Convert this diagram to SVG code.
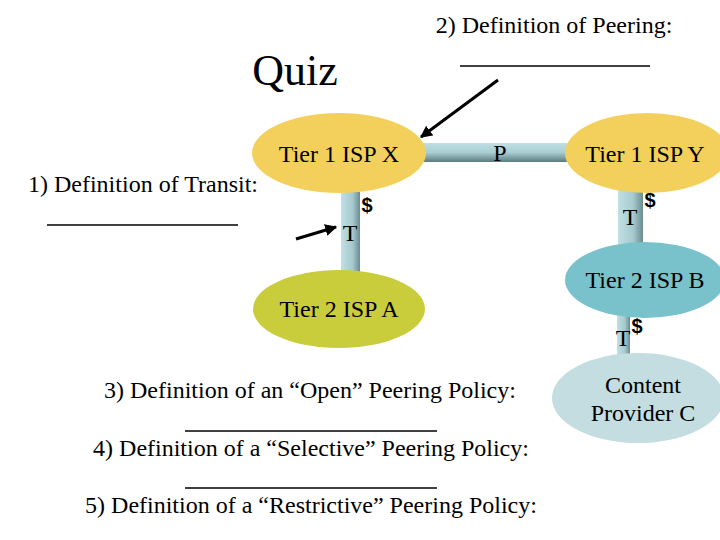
<svg xmlns="http://www.w3.org/2000/svg" width="720" height="540" viewBox="0 0 720 540">
<defs>
<linearGradient id="pipeH" x1="0" y1="0" x2="0" y2="1"><stop offset="0" stop-color="#bfe0e4"/><stop offset="0.5" stop-color="#a9cdd2"/><stop offset="1" stop-color="#5b7a7e"/></linearGradient>
<linearGradient id="pipeV" x1="0" y1="0" x2="1" y2="0"><stop offset="0" stop-color="#bfe0e4"/><stop offset="0.6" stop-color="#a6cace"/><stop offset="1" stop-color="#6a8c90"/></linearGradient>
<marker id="ah" viewBox="0 0 10 10" refX="9" refY="5" markerWidth="4" markerHeight="4" orient="auto"><path d="M0,0 L10,5 L0,10 z" fill="#000"/></marker>
</defs>
<style>
.u{stroke:#000;stroke-width:1.3}
.a{stroke:#000;stroke-width:3;marker-end:url(#ah)}
</style>
<rect width="720" height="540" fill="#fff"/>
<g id="connectors">
<rect x="415" y="143" width="160" height="19" fill="url(#pipeH)"/>
<rect x="341" y="185" width="19" height="92" fill="url(#pipeV)"/>
<rect x="618" y="185" width="25" height="65" fill="url(#pipeV)"/>
<rect x="617" y="312" width="13" height="50" fill="url(#pipeV)"/>
<text x="500" y="161" text-anchor="middle" font-family="Liberation Serif, serif" font-size="24">P</text>
<text x="350" y="241" text-anchor="middle" font-family="Liberation Serif, serif" font-size="24">T</text>
<text x="630" y="225" text-anchor="middle" font-family="Liberation Serif, serif" font-size="24">T</text>
<text x="623" y="346" text-anchor="middle" font-family="Liberation Serif, serif" font-size="24">T</text>
<text x="367" y="212" text-anchor="middle" font-family="Liberation Sans, sans-serif" font-weight="bold" font-size="20">$</text>
<text x="650" y="207" text-anchor="middle" font-family="Liberation Sans, sans-serif" font-weight="bold" font-size="20">$</text>
<text x="637" y="333" text-anchor="middle" font-family="Liberation Sans, sans-serif" font-weight="bold" font-size="20">$</text>
<line class="a" x1="498" y1="80" x2="421" y2="137"/>
<line class="a" x1="296" y1="239" x2="336" y2="227"/>
</g>
<g id="isp-x"><ellipse cx="339" cy="153" rx="87" ry="40" fill="#f3d05c"/><text x="339" y="162" text-anchor="middle" font-family="Liberation Serif, serif" font-size="24">Tier 1 ISP X</text></g>
<g id="isp-y"><ellipse cx="647" cy="153" rx="82" ry="40" fill="#f3d05c"/><text x="645" y="162" text-anchor="middle" font-family="Liberation Serif, serif" font-size="24">Tier 1 ISP Y</text></g>
<g id="isp-a"><ellipse cx="339" cy="309" rx="86" ry="39" fill="#c9cc3b"/><text x="339" y="317" text-anchor="middle" font-family="Liberation Serif, serif" font-size="24">Tier 2 ISP A</text></g>
<g id="isp-b"><ellipse cx="645" cy="280" rx="80" ry="38" fill="#79c1cb"/><text x="645" y="288" text-anchor="middle" font-family="Liberation Serif, serif" font-size="24">Tier 2 ISP B</text></g>
<g id="provider-c"><ellipse cx="638" cy="398" rx="86" ry="45" fill="#c3dde1"/><text x="643" y="393" text-anchor="middle" font-family="Liberation Serif, serif" font-size="24">Content</text><text x="643" y="421" text-anchor="middle" font-family="Liberation Serif, serif" font-size="24">Provider C</text></g>
<g id="texts">
<text x="295" y="85" text-anchor="middle" font-family="Liberation Serif, serif" font-size="44">Quiz</text>
<text x="554" y="33" text-anchor="middle" font-family="Liberation Serif, serif" font-size="24">2) Definition of Peering:</text>
<line class="u" x1="460" y1="66" x2="650" y2="66"/>
<text x="143" y="192" text-anchor="middle" font-family="Liberation Serif, serif" font-size="24">1) Definition of Transit:</text>
<line class="u" x1="47" y1="225" x2="238" y2="225"/>
<text x="310" y="398" text-anchor="middle" font-family="Liberation Serif, serif" font-size="24">3) Definition of an &#8220;Open&#8221; Peering Policy:</text>
<line class="u" x1="185" y1="431" x2="437" y2="431"/>
<text x="311" y="456" text-anchor="middle" font-family="Liberation Serif, serif" font-size="24">4) Definition of a &#8220;Selective&#8221; Peering Policy:</text>
<line class="u" x1="185" y1="488" x2="437" y2="488"/>
<text x="311" y="513" text-anchor="middle" font-family="Liberation Serif, serif" font-size="24">5) Definition of a &#8220;Restrictive&#8221; Peering Policy:</text>
</g>
</svg>
